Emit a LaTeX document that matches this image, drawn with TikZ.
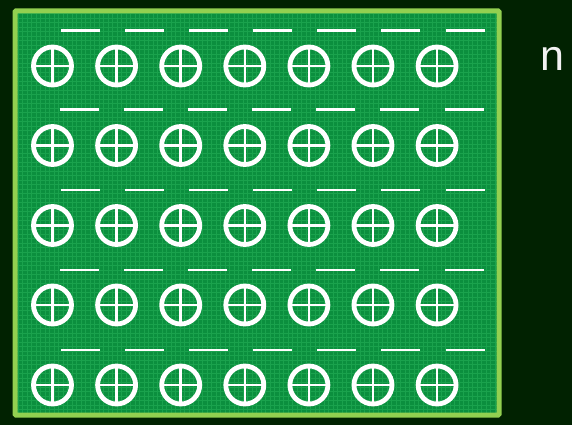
\documentclass[tikz,border=0pt]{standalone}
\usepackage{fontspec}
\setmainfont{Liberation Sans}
\definecolor{bgdark}{HTML}{012201}
\definecolor{panelfill}{HTML}{0B8F3E}
\definecolor{panelgrid}{HTML}{24B058}
\definecolor{panelborder}{HTML}{92D050}
\definecolor{labelgray}{HTML}{F2F2F2}
\tikzset{
  plusring/.style={circle, draw=white, line width=4.8pt, minimum size=38pt, inner sep=0pt},
  plusbar/.style={draw=white, line width=2.6pt, shorten <=2pt, shorten >=2pt},
  minusbar/.style={rectangle, fill=white, minimum width=39pt, minimum height=2.8pt, inner sep=0pt, anchor=west},
  chargelabel/.style={text=labelgray, font=\fontsize{43}{46}\selectfont, inner sep=0pt, anchor=base}
}
\begin{document}
\begin{tikzpicture}[x=1pt,y=-1pt]
\fill[bgdark] (0,0) rectangle (572,425);
\useasboundingbox (0,0) rectangle (572,425);
% panel
\fill[panelfill] (15,11) rectangle (499,415);
\begin{scope}
  \clip (15,11) rectangle (499,415);
  \draw[panelgrid, line width=0.8pt, opacity=0.6, step=4.5pt] (15,11) grid (499,415);
\end{scope}
\draw[panelborder, line width=5pt, rounded corners=1pt] (15,11) rectangle (499,415);
% rows
\foreach \r/\cy/\dy/\dx in {1/66/30.8/61, 2/145.5/109.6/60, 3/225.5/190/61, 4/305/270/60, 5/385/350/61}{
  \foreach \c in {1,...,7}{
    \node[minusbar] (m-\r-\c) at ({\dx+64.05*(\c-1)},\dy) {};
    \node[plusring] (p-\r-\c) at ({52.5+64.1*(\c-1)},\cy) {};
    \draw[plusbar] (p-\r-\c.north) -- (p-\r-\c.south);
    \draw[plusbar] (p-\r-\c.west) -- (p-\r-\c.east);
  }
}
\node[chargelabel] (nlabel) at (552.5,71) {n};
\end{tikzpicture}
\end{document}
